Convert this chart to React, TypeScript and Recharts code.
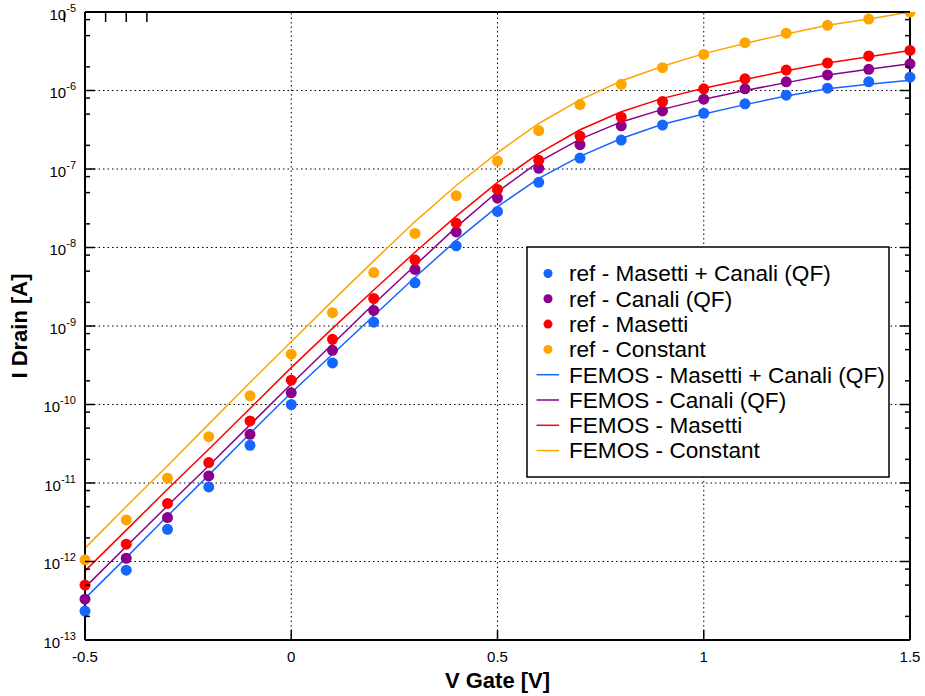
import React from 'react';
import { ComposedChart, Line, XAxis, YAxis, ReferenceLine } from 'recharts';

// Gate voltage sweep [V]
const vGate = [-0.5, -0.4, -0.3, -0.2, -0.1, 0, 0.1, 0.2, 0.3, 0.4, 0.5, 0.6, 0.7, 0.8, 0.9, 1.0, 1.1, 1.2, 1.3, 1.4, 1.5];

// Reference drain current [A]
const refMasettiCanali = [2.34e-13, 7.76e-13, 2.57e-12, 8.91e-12, 3.02e-11, 1.0e-10, 3.39e-10, 1.12e-9, 3.55e-9, 1.05e-8, 2.88e-8, 6.76e-8, 1.38e-7, 2.34e-7, 3.63e-7, 5.13e-7, 6.76e-7, 8.71e-7, 1.07e-6, 1.29e-6, 1.48e-6];
const refCanali = [3.31e-13, 1.10e-12, 3.63e-12, 1.23e-11, 4.17e-11, 1.41e-10, 4.90e-10, 1.58e-9, 5.25e-9, 1.58e-8, 4.27e-8, 1.02e-7, 2.04e-7, 3.55e-7, 5.50e-7, 7.76e-7, 1.05e-6, 1.29e-6, 1.58e-6, 1.86e-6, 2.19e-6];
const refMasetti = [5.01e-13, 1.66e-12, 5.50e-12, 1.82e-11, 6.17e-11, 2.04e-10, 6.76e-10, 2.24e-9, 6.92e-9, 2.04e-8, 5.50e-8, 1.29e-7, 2.63e-7, 4.57e-7, 7.24e-7, 1.05e-6, 1.41e-6, 1.82e-6, 2.24e-6, 2.75e-6, 3.24e-6];
const refConstant = [1.05e-12, 3.39e-12, 1.15e-11, 3.89e-11, 1.29e-10, 4.37e-10, 1.48e-9, 4.79e-9, 1.51e-8, 4.57e-8, 1.26e-7, 3.09e-7, 6.61e-7, 1.20e-6, 1.95e-6, 2.88e-6, 4.07e-6, 5.37e-6, 6.76e-6, 8.13e-6, 1.0e-5];

// FEMOS simulated drain current [A]
const femosMasettiCanali = [3.39e-13, 1.12e-12, 3.80e-12, 1.26e-11, 4.27e-11, 1.41e-10, 4.37e-10, 1.35e-9, 4.17e-9, 1.23e-8, 3.31e-8, 7.59e-8, 1.45e-7, 2.45e-7, 3.72e-7, 5.01e-7, 6.61e-7, 8.51e-7, 1.05e-6, 1.20e-6, 1.35e-6];
const femosCanali = [4.68e-13, 1.55e-12, 5.13e-12, 1.66e-11, 5.50e-11, 1.82e-10, 5.89e-10, 1.91e-9, 5.89e-9, 1.82e-8, 5.13e-8, 1.23e-7, 2.40e-7, 3.98e-7, 5.75e-7, 7.76e-7, 1.0e-6, 1.26e-6, 1.58e-6, 1.86e-6, 2.19e-6];
const femosMasetti = [7.59e-13, 2.51e-12, 8.32e-12, 2.69e-11, 8.91e-11, 2.95e-10, 9.33e-10, 2.88e-9, 8.71e-9, 2.51e-8, 6.76e-8, 1.58e-7, 3.16e-7, 5.37e-7, 7.94e-7, 1.07e-6, 1.38e-6, 1.78e-6, 2.24e-6, 2.69e-6, 3.24e-6];
const femosConstant = [1.48e-12, 5.01e-12, 1.66e-11, 5.62e-11, 1.91e-10, 6.31e-10, 2.09e-9, 6.76e-9, 2.14e-8, 6.17e-8, 1.62e-7, 3.80e-7, 7.59e-7, 1.32e-6, 2.04e-6, 2.95e-6, 3.98e-6, 5.25e-6, 6.76e-6, 8.13e-6, 1.0e-5];

// Axis ticks
const xTicks = [-0.5, 0, 0.5, 1, 1.5];
const yMajorTicks = [1e-13, 1e-12, 1e-11, 1e-10, 1e-9, 1e-8, 1e-7, 1e-6, 1e-5];
const yMinorFactors = [2, 5, 8];

const BLUE = '#1565ff';
const PURPLE = '#8b008b';
const RED = '#ff0000';
const ORANGE = '#ffa500';

const refSeries = [
  { key: 'refMC', name: 'ref - Masetti + Canali (QF)', color: BLUE, values: refMasettiCanali },
  { key: 'refC', name: 'ref - Canali (QF)', color: PURPLE, values: refCanali },
  { key: 'refM', name: 'ref - Masetti', color: RED, values: refMasetti },
  { key: 'refK', name: 'ref - Constant', color: ORANGE, values: refConstant },
];
const femosSeries = [
  { key: 'femMC', name: 'FEMOS - Masetti + Canali (QF)', color: BLUE, values: femosMasettiCanali },
  { key: 'femC', name: 'FEMOS - Canali (QF)', color: PURPLE, values: femosCanali },
  { key: 'femM', name: 'FEMOS - Masetti', color: RED, values: femosMasetti },
  { key: 'femK', name: 'FEMOS - Constant', color: ORANGE, values: femosConstant },
];

const rows = vGate.map((v, i) => {
  const row: Record<string, number> = { v };
  refSeries.forEach((s) => (row[s.key] = s.values[i]));
  femosSeries.forEach((s) => (row[s.key] = s.values[i]));
  return row;
});

const yAllTicks: number[] = [];
yMajorTicks.forEach((m, i) => {
  yAllTicks.push(m);
  if (i < yMajorTicks.length - 1) yMinorFactors.forEach((f) => yAllTicks.push(m * f));
});

const FONT = '"Liberation Sans", Arial, Helvetica, sans-serif';
const Y_DOMAIN: [number, number] = [1e-13, 1e-5];

const isMajor = (v: number) => Math.abs(Math.log10(v) - Math.round(Math.log10(v))) < 1e-6;

const LeftTick = (props: any) => {
  const { x, y, payload } = props;
  const major = isMajor(payload.value);
  const exp = Math.round(Math.log10(payload.value));
  return (
    <g>
      <line x1={x} x2={x + (major ? 10 : 5)} y1={y} y2={y} stroke="#000" strokeWidth={1.5} />
      {major && (
        <text x={x - 9} y={y + 7.5} textAnchor="end" fontSize={15} fontFamily={FONT} fill="#000">
          10
          <tspan dy={-8} fontSize={11}>{`${exp}`}</tspan>
        </text>
      )}
    </g>
  );
};

const RightTick = (props: any) => {
  const { x, y, payload } = props;
  const major = isMajor(payload.value);
  return <line x1={x} x2={x - (major ? 10 : 5)} y1={y} y2={y} stroke="#000" strokeWidth={1.5} />;
};

const BottomTick = (props: any) => {
  const { x, y, payload } = props;
  return (
    <g>
      <line x1={x} x2={x} y1={y} y2={y - 10} stroke="#000" strokeWidth={1.5} />
      <text x={x} y={y + 22} textAnchor="middle" fontSize={15} fontFamily={FONT} fill="#000">
        {`${payload.value}`}
      </text>
    </g>
  );
};

const TopTick = (props: any) => {
  const { x, y } = props;
  return <line x1={x} x2={x} y1={y} y2={y + 10} stroke="#000" strokeWidth={1.5} />;
};

const makeDot = (color: string) => (p: any) => (
  <circle key={`${color}-${p.index}`} cx={p.cx} cy={p.cy} r={5.5} fill={color} stroke="none" />
);

const ROW0 = 27.5;
const ROW_STEP = 25.3;

const LegendBox = () => (
  <svg width={364} height={232} style={{ position: 'absolute', left: 526, top: 246 }}>
    <rect x={1} y={1} width={362} height={230} fill="#fff" stroke="#000" strokeWidth={1.5} />
    {refSeries.map((s, i) => (
      <g key={s.key}>
        <circle cx={22} cy={ROW0 + i * ROW_STEP} r={4.5} fill={s.color} />
        <text x={43} y={ROW0 + i * ROW_STEP + 7.8} fontSize={22.6} fontFamily={FONT} fill="#000">
          {s.name}
        </text>
      </g>
    ))}
    {femosSeries.map((s, j) => {
      const i = j + refSeries.length;
      return (
        <g key={s.key}>
          <line x1={10.5} x2={33} y1={ROW0 + i * ROW_STEP} y2={ROW0 + i * ROW_STEP} stroke={s.color} strokeWidth={1.5} />
          <text x={43} y={ROW0 + i * ROW_STEP + 7.8} fontSize={22.6} fontFamily={FONT} fill="#000">
            {s.name}
          </text>
        </g>
      );
    })}
  </svg>
);

export default function App() {
  return (
    <div style={{ position: 'absolute', left: 0, top: 0, width: 925, height: 696, background: '#fff' }}>
      <ComposedChart width={925} height={696} data={rows} margin={{ top: 0, right: 0, bottom: 0, left: 0 }}>
        <XAxis
          dataKey="v"
          type="number"
          domain={[-0.5, 1.5]}
          ticks={xTicks}
          height={56}
          tickSize={0}
          tickMargin={0}
          tickLine={false}
          axisLine={{ stroke: '#000', strokeWidth: 2 }}
          tick={<BottomTick />}
          interval={0}
          allowDecimals
        />
        <XAxis
          xAxisId="top"
          orientation="top"
          type="number"
          domain={[-0.5, 1.5]}
          ticks={xTicks}
          height={12}
          tickSize={0}
          tickMargin={0}
          tickLine={false}
          axisLine={{ stroke: '#000', strokeWidth: 2 }}
          tick={<TopTick />}
          interval={0}
        />
        <YAxis
          scale="log"
          type="number"
          domain={Y_DOMAIN}
          ticks={yAllTicks}
          width={85}
          tickSize={0}
          tickMargin={0}
          tickLine={false}
          axisLine={{ stroke: '#000', strokeWidth: 2 }}
          tick={<LeftTick />}
          interval={0}
          allowDataOverflow
        />
        <YAxis
          yAxisId="right"
          orientation="right"
          scale="log"
          type="number"
          domain={Y_DOMAIN}
          ticks={yAllTicks}
          width={15}
          tickSize={0}
          tickMargin={0}
          tickLine={false}
          axisLine={{ stroke: '#000', strokeWidth: 2 }}
          tick={<RightTick />}
          interval={0}
          allowDataOverflow
        />
        {xTicks.slice(1, -1).map((t) => (
          <ReferenceLine key={`gx${t}`} x={t} stroke="#000" strokeWidth={1} strokeDasharray="1.5 3" />
        ))}
        {yMajorTicks.slice(1, -1).map((t) => (
          <ReferenceLine key={`gy${t}`} y={t} stroke="#000" strokeWidth={1} strokeDasharray="1.5 3" />
        ))}
        {refSeries.map((s) => (
          <Line
            key={s.key}
            dataKey={s.key}
            name={s.name}
            stroke="none"
            dot={makeDot(s.color)}
            activeDot={false}
            isAnimationActive={false}
          />
        ))}
        {femosSeries.map((s) => (
          <Line
            key={s.key}
            dataKey={s.key}
            name={s.name}
            type="linear"
            stroke={s.color}
            strokeWidth={1.5}
            dot={false}
            activeDot={false}
            isAnimationActive={false}
          />
        ))}
      </ComposedChart>
      <svg width={925} height={696} style={{ position: 'absolute', left: 0, top: 0, pointerEvents: 'none' }}>
        <text
          x={0}
          y={0}
          transform="translate(27,326) rotate(-90)"
          textAnchor="middle"
          fontSize={22}
          fontWeight="bold"
          fontFamily={FONT}
          fill="#000"
        >
          I Drain [A]
        </text>
        <text x={497.5} y={688} textAnchor="middle" fontSize={22} fontWeight="bold" fontFamily={FONT} fill="#000">
          V Gate [V]
        </text>
      </svg>
      <LegendBox />
    </div>
  );
}
